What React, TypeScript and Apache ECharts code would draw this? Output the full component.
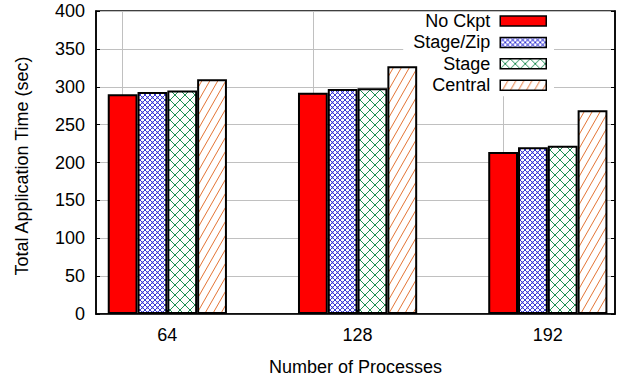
import React, { useEffect, useRef } from 'react';
import * as echarts from 'echarts';

const categories = [64, 128, 192];
const seriesNames = ['No Ckpt', 'Stage/Zip', 'Stage', 'Central'];
const noCkpt = [290, 292, 214];
const stageZip = [293, 297, 220];
const stage = [295, 298, 222];
const central = [310, 327, 269];
const seriesValues = [noCkpt, stageZip, stage, central];
const yMin = 0;
const yMax = 400;
const yStep = 50;

function crossHatch(size: number, color: string, lw: number, dotR: number) {
  const c = document.createElement('canvas');
  c.width = size;
  c.height = size;
  const ctx = c.getContext('2d')!;
  ctx.fillStyle = '#fff';
  ctx.fillRect(0, 0, size, size);
  ctx.strokeStyle = color;
  ctx.lineWidth = lw;
  ctx.beginPath();
  for (const o of [-size, 0, size]) {
    ctx.moveTo(o, 0);
    ctx.lineTo(o + size, size);
    ctx.moveTo(o, size);
    ctx.lineTo(o + size, 0);
  }
  ctx.stroke();
  ctx.fillStyle = color;
  const pts = [[0, 0], [size, 0], [0, size], [size, size], [size / 2, size / 2]];
  for (const [x, y] of pts) {
    ctx.beginPath();
    ctx.arc(x, y, dotR, 0, Math.PI * 2);
    ctx.fill();
  }
  return { image: c, repeat: 'repeat' };
}

function diagonal(w: number, h: number, color: string, lw: number) {
  const c = document.createElement('canvas');
  c.width = w;
  c.height = h;
  const ctx = c.getContext('2d')!;
  ctx.fillStyle = '#fff';
  ctx.fillRect(0, 0, w, h);
  ctx.strokeStyle = color;
  ctx.lineWidth = lw;
  ctx.beginPath();
  for (const o of [-w, 0, w]) {
    ctx.moveTo(o, h);
    ctx.lineTo(o + w, 0);
  }
  ctx.stroke();
  return { image: c, repeat: 'repeat' };
}

export default function App() {
  const ref = useRef<HTMLDivElement>(null);
  useEffect(() => {
    if (!ref.current) return;
    const chart = echarts.init(ref.current, null, { renderer: 'svg' });
    const fills: any[] = [
      '#ff0000',
      crossHatch(5, '#3a3ad6', 1, 0.9),
      crossHatch(10, '#1f8f55', 1, 1.1),
      diagonal(8, 14, '#e0641e', 0.9),
    ];
    const font = 'Liberation Sans, Arial, sans-serif';
    const fs = 18;
    const option: any = {
      animation: false,
      backgroundColor: '#fff',
      textStyle: { fontFamily: font },
      grid: {
        left: 96,
        right: 4,
        top: 11,
        bottom: 68,
        show: true,
        borderColor: '#000',
        borderWidth: 1.5,
        backgroundColor: 'transparent',
      },
      graphic: [
        {
          type: 'text',
          x: 22,
          y: 166,
          rotation: Math.PI / 2,
          style: {
            text: 'Total Application Time (sec)',
            fontSize: fs,
            fontFamily: font,
            fill: '#000',
            align: 'center',
            verticalAlign: 'middle',
          },
        },
      ],
      legend: {
        orient: 'vertical',
        right: 65,
        top: 12,
        align: 'right',
        icon: 'rect',
        itemWidth: 46,
        itemHeight: 10,
        itemGap: 3.4,
        backgroundColor: '#fff',
        padding: [0, 7, 2, 10],
        z: 1,
        textStyle: { fontSize: fs, color: '#000', fontFamily: font, padding: [0, 5, 0, 0] },
        itemStyle: { borderColor: '#000', borderWidth: 1.5 },
        data: seriesNames,
      },
      xAxis: {
        type: 'value',
        min: 40,
        max: 214.6,
        name: 'Number of Processes',
        nameLocation: 'middle',
        nameGap: 44,
        nameTextStyle: { fontSize: fs, color: '#000', fontFamily: font },
        axisLine: { lineStyle: { color: '#000', width: 1.5 } },
        axisTick: { show: true, inside: true, length: 4, customValues: categories, lineStyle: { color: '#000' } },
        axisLabel: { customValues: categories, fontSize: fs, color: '#000', margin: 12, fontFamily: font },
        splitLine: { show: false },
      },
      yAxis: [
        {
          type: 'value',
          min: yMin,
          max: yMax,
          interval: yStep,
          axisLine: { show: true, lineStyle: { color: '#000', width: 1.5 } },
          axisTick: { show: true, inside: true, length: 4, lineStyle: { color: '#000' } },
          axisLabel: { fontSize: fs, color: '#000', margin: 11, fontFamily: font },
          splitLine: { show: true, lineStyle: { color: '#c0c0c0', width: 1 } },
        },
        {
          type: 'value',
          position: 'right',
          min: yMin,
          max: yMax,
          interval: yStep,
          axisLine: { show: true, lineStyle: { color: '#000', width: 1.5 } },
          axisTick: { show: true, inside: true, length: 4, lineStyle: { color: '#000' } },
          axisLabel: { show: false },
          splitLine: { show: false },
        },
      ],
      series: seriesNames.map((name, i) => {
        const s: any = {
          type: 'bar',
          name,
          data: categories.map((c, j) => [c, seriesValues[i][j]]),
          barWidth: 29.8,
          barGap: '0%',
          z: 2,
          itemStyle: { color: fills[i], borderColor: '#000', borderWidth: 2 },
        };
        if (i === 0) {
          s.markLine = {
            silent: true,
            z: 0.5,
            symbol: 'none',
            label: { show: false },
            lineStyle: { color: '#c0c0c0', width: 1, type: 'solid' },
            data: categories.map((c) => [{ coord: [c, yMin] }, { coord: [c, yMax] }]),
          };
        }
        return s;
      }),
    };
    chart.setOption(option);
    return () => chart.dispose();
  }, []);
  return <div ref={ref} style={{ width: 619, height: 382, position: 'absolute', left: 0, top: 0 }} />;
}
